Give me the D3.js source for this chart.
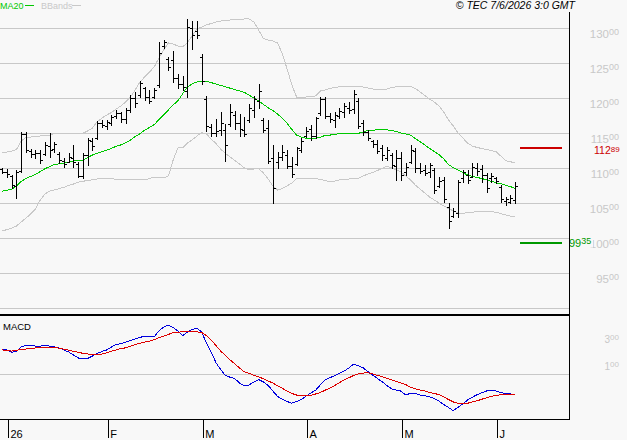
<!DOCTYPE html>
<html><head><meta charset="utf-8">
<script src="https://cdn.jsdelivr.net/npm/d3@7"></script>
<style>body{margin:0;background:#f8f8f8;}svg{display:block;font-family:"Liberation Sans",Arial,sans-serif;}</style>
</head><body><svg id="c" width="627" height="440"></svg>
<script>
// ---- data ----
const high=[109.96,109.86,109.0,109.71,115.14,115.14,112.71,112.57,112.57,113.71,
115.0,113.71,112.29,111.43,112.14,113.29,110.86,112.14,114.29,114.29,
116.76,116.86,116.86,117.57,118.29,118.04,118.53,120.43,120.9,122.47,
121.61,121.14,121.39,128.0,128.29,125.9,126.76,123.43,123.19,131.29,
131.04,131.04,126.29,120.33,116.29,117.0,117.96,116.29,119.14,118.19,
117.71,117.24,119.14,120.33,122.0,117.1,116.86,113.29,112.33,113.29,
112.57,111.61,113.04,114.24,115.9,116.14,117.33,120.19,120.19,117.81,
118.04,118.53,119.24,119.47,121.14,119.96,116.86,115.43,114.0,114.0,
113.29,113.04,112.1,112.57,112.33,110.67,113.29,112.81,110.67,110.43,
110.67,109.96,108.76,108.76,104.96,104.24,108.29,109.71,109.71,110.67,
110.67,110.43,109.24,109.24,108.76,107.57,105.9,106.14,108.04];
const low=[109.29,108.71,107.14,105.71,109.43,112.29,111.57,111.43,110.71,111.86,
111.57,112.29,110.71,110.14,110.86,110.14,108.71,108.57,110.43,112.57,
114.14,115.9,115.57,116.14,117.1,116.61,116.47,118.04,118.76,120.19,
119.71,119.24,119.96,121.61,127.14,124.0,122.24,121.43,121.14,120.1,
127.0,128.57,122.0,115.33,114.61,114.61,114.76,111.04,116.04,115.57,
114.61,114.61,116.53,117.24,118.57,115.19,110.67,104.96,109.96,111.14,
109.96,108.76,110.43,112.33,114.47,114.0,114.24,117.57,117.1,116.61,
115.9,117.1,117.33,117.81,117.81,115.67,114.71,114.0,113.04,112.1,
111.14,111.14,109.96,108.29,108.29,109.0,110.67,109.47,109.24,109.0,
108.76,106.39,107.33,105.19,101.39,103.04,103.04,108.04,107.81,108.76,
109.0,108.04,106.61,108.04,107.81,105.19,104.71,104.96,104.96];
const open=[109.9,109.5,108.8,107.5,109.6,114.9,112.4,112.0,112.2,112.0,
113.2,112.7,112.0,111.0,110.9,111.5,110.6,108.8,111.8,113.9,
114.3,116.4,116.0,116.5,117.4,117.8,117.0,118.3,120.0,120.5,
121.4,120.2,120.1,121.8,127.5,125.6,125.5,122.8,122.0,121.0,
130.0,129.5,125.8,119.8,115.8,115.0,115.4,115.5,116.3,117.6,
116.4,115.5,116.8,118.3,119.5,116.8,115.7,111.5,110.8,111.6,
111.8,110.3,110.6,112.6,114.6,115.6,114.5,117.8,119.8,117.4,
116.8,117.5,118.0,118.6,118.5,119.6,116.4,115.2,113.8,113.5,
112.9,111.5,111.8,110.3,111.5,109.4,110.8,112.4,110.0,109.7,
109.4,109.7,107.5,108.3,104.5,103.2,103.5,108.6,109.0,108.7,
110.0,109.8,109.0,108.5,108.5,107.3,105.3,105.2,105.4];
const close=[109.5,109.1,107.6,109.4,114.8,112.6,112.0,112.2,111.2,113.3,
112.6,113.4,111.1,110.6,111.6,110.8,108.9,111.9,114.0,113.2,
116.5,116.2,116.6,117.3,117.9,117.0,118.3,120.0,119.3,122.2,
120.1,119.6,121.2,126.5,128.0,124.4,122.8,122.0,121.6,130.2,
129.0,129.0,122.4,116.0,115.0,115.3,116.4,113.3,118.0,116.4,
115.6,114.9,118.6,119.8,121.0,115.4,111.0,107.2,111.6,112.3,
110.3,109.1,112.8,113.8,115.3,114.5,117.1,119.9,117.5,117.0,
117.6,118.2,118.8,118.3,120.6,116.0,115.1,114.3,113.4,112.5,
111.8,112.6,110.4,111.5,109.0,110.2,112.6,110.0,109.6,109.3,
110.4,106.9,108.2,105.6,102.5,103.8,108.0,109.4,108.3,110.2,
109.6,109.0,107.2,108.8,108.1,105.6,105.6,105.7,107.5];
const ma20=[106.7,106.8,107.0,107.4,108.1,108.5,108.8,109.1,109.5,109.9,
110.2,110.5,110.6,110.7,110.85,111.0,111.05,111.15,111.5,111.85,
112.1,112.35,112.55,112.8,113.1,113.3,113.6,114.0,114.5,114.9,
115.4,115.8,116.2,116.9,117.6,118.3,119.0,119.6,120.6,121.6,
122.0,122.3,122.4,122.4,122.2,122.0,121.8,121.6,121.4,121.2,
121.0,120.8,120.4,120.0,119.6,119.1,118.6,118.2,117.7,117.1,
116.4,115.5,114.7,114.4,114.25,114.24,114.24,114.4,114.65,114.7,
114.8,114.9,114.9,114.9,114.9,114.95,115.15,115.35,115.4,115.45,
115.5,115.45,115.35,115.2,115.0,114.85,114.7,114.2,113.75,113.3,
112.8,112.35,111.9,111.3,110.5,110.05,109.7,109.35,109.0,108.8,
108.65,108.5,108.3,108.1,107.9,107.75,107.55,107.35,107.1];
const bbUpper=[112.19,112.29,112.43,112.64,113.86,114.36,114.43,114.5,114.57,114.64,
114.71,114.93,114.96,114.96,114.96,114.96,114.96,114.96,115.29,115.71,
116.61,117.14,117.57,117.93,118.43,118.86,119.43,120.14,121.14,122.29,
123.0,123.71,124.43,125.71,126.86,127.86,127.71,127.43,127.29,127.93,
128.86,129.86,130.14,130.43,130.64,130.86,131.0,131.14,131.14,131.21,
131.24,131.29,131.29,130.86,129.71,128.53,128.29,128.14,127.86,126.29,
124.14,121.86,120.14,120.07,120.14,120.21,120.29,121.0,121.14,121.36,
121.5,121.61,121.64,121.67,121.71,121.71,121.57,121.43,121.29,121.21,
121.14,121.29,121.5,121.61,121.64,121.69,121.67,121.36,120.86,120.36,
119.86,119.43,118.86,118.0,116.86,116.0,115.0,114.29,113.57,113.14,
112.93,112.79,112.64,112.5,112.33,111.71,111.07,110.89,110.76];
const bbLower=[101.0,101.21,101.43,101.71,102.29,102.86,103.43,104.14,105.43,106.29,
106.71,106.86,107.07,107.24,107.5,107.71,107.97,108.11,108.21,108.33,
108.43,108.5,108.53,108.47,108.4,108.34,108.29,108.29,108.29,108.29,
108.29,108.5,108.71,108.71,108.57,108.86,111.14,112.86,112.86,113.57,
114.0,114.57,115.07,114.86,114.14,113.5,112.71,112.07,111.57,111.07,
110.57,110.0,109.71,109.86,109.93,109.29,108.43,107.43,106.86,107.07,
107.43,107.86,108.5,108.53,108.53,108.53,108.5,108.36,108.21,108.04,
108.14,108.29,108.36,108.43,108.46,108.5,108.86,109.14,109.36,109.64,
109.93,110.29,110.0,109.71,109.43,108.86,108.29,107.57,107.0,106.43,
105.86,105.43,105.0,104.57,104.21,103.86,103.57,103.54,103.61,103.69,
103.76,103.76,103.76,103.76,103.69,103.5,103.29,103.14,103.04];
const macd=[1.83,1.78,1.61,1.70,2.00,2.13,2.09,2.07,2.07,2.11,
2.07,2.00,1.93,1.78,1.63,1.41,1.19,1.11,1.15,1.33,
1.52,1.67,1.78,2.00,2.20,2.24,2.37,2.47,2.59,2.72,
2.78,2.81,2.76,3.19,3.48,3.61,3.44,3.19,2.85,3.11,
3.30,3.39,3.11,2.30,1.63,0.85,0.33,-0.11,-0.24,-0.35,
-0.67,-0.89,-0.81,-0.59,-0.41,-0.59,-0.85,-1.26,-1.67,-1.87,
-2.04,-2.16,-2.04,-1.89,-1.63,-1.41,-1.20,-0.81,-0.44,-0.27,
-0.13,0.05,0.22,0.44,0.73,0.61,0.46,0.19,-0.07,-0.33,
-0.57,-0.85,-1.10,-1.19,-1.27,-1.56,-1.42,-1.44,-1.56,-1.61,
-1.69,-1.81,-2.01,-2.26,-2.48,-2.72,-2.47,-2.22,-1.93,-1.73,
-1.53,-1.39,-1.26,-1.20,-1.26,-1.39,-1.43,-1.48,-1.50];
const signal=[1.78,1.74,1.70,1.76,1.81,1.85,1.90,1.93,1.96,1.98,
1.98,1.98,1.91,1.84,1.76,1.68,1.61,1.53,1.48,1.46,
1.47,1.48,1.56,1.69,1.79,1.88,1.94,2.05,2.18,2.27,
2.37,2.43,2.54,2.69,2.80,2.93,3.06,3.10,3.13,3.13,
3.13,3.13,3.07,2.85,2.52,2.11,1.70,1.37,1.04,0.74,
0.44,0.16,0.04,-0.09,-0.20,-0.36,-0.52,-0.67,-0.87,-1.06,
-1.27,-1.44,-1.56,-1.63,-1.61,-1.57,-1.48,-1.37,-1.20,-1.05,
-0.85,-0.64,-0.44,-0.28,-0.11,0.00,0.07,0.09,0.00,-0.10,
-0.19,-0.31,-0.43,-0.54,-0.67,-0.79,-0.98,-1.09,-1.19,-1.26,
-1.36,-1.44,-1.53,-1.70,-1.89,-2.07,-2.17,-2.17,-2.17,-2.07,
-1.99,-1.87,-1.76,-1.65,-1.59,-1.53,-1.50,-1.50,-1.50];
const gridPrices=[90,95,100,105,110,115,120,125,130];
const priceTicks=[95,100,105,110,115,120,125,130];
const macdTicks=[1,3];
const monthStart=[1,22,42,64,84,104];
const monthLabels=["26","F","M","A","M","J"];
const resistance=112.89, support=99.35;
const copyright="\u00A9 TEC 7/6/2026 3:0 GMT";

// ---- layout ----
const W=627,H=440,R=569;
const svg=d3.select("#c");
svg.append("rect").attr("width",W).attr("height",H).attr("fill","#f8f8f8");
const x=d3.scaleLinear().domain([0,high.length-1]).range([2.25,515]);
const y=d3.scaleLinear().domain([90,130]).range([308,28]);
const ym=d3.scaleLinear().domain([-3,3]).range([414.5,333.5]);
const GRID="#c8c8c8";

// grid main
const g1=svg.append("g").attr("transform",`translate(${R},0)`)
  .call(d3.axisLeft(y).tickValues(gridPrices).tickSize(R).tickFormat(""));
g1.select(".domain").remove();
g1.selectAll("line").attr("stroke",GRID).attr("shape-rendering","crispEdges");
// grid macd zero
const g2=svg.append("g").attr("transform",`translate(${R},0)`)
  .call(d3.axisLeft(ym).tickValues([0]).tickSize(R).tickFormat(""));
g2.select(".domain").remove();
g2.selectAll("line").attr("stroke",GRID).attr("shape-rendering","crispEdges");

function splitLabel(sel,v,mainSize,supSize,supDy){
  const s=v.toFixed(2).split(".");
  sel.text(null);
  sel.append("tspan").attr("font-size",mainSize).text(s[0]);
  sel.append("tspan").attr("font-size",supSize).attr("dy",supDy).text(s[1]);
}
// price axis labels
const pa=svg.append("g").attr("transform","translate(619,0)")
  .call(d3.axisRight(y).tickValues(priceTicks).tickSize(0).tickPadding(0));
pa.select(".domain").remove();
pa.selectAll("text").attr("text-anchor","end").attr("dy",null).attr("x",0).attr("y",9.3)
  .attr("fill","#c8c8c8").attr("font-family","Liberation Sans, Arial, sans-serif")
  .each(function(d){splitLabel(d3.select(this),d,"11.5px","9px",-3);});
// macd axis labels
const ma=svg.append("g").attr("transform","translate(619,0)")
  .call(d3.axisRight(ym).tickValues(macdTicks).tickSize(0).tickPadding(0));
ma.select(".domain").remove();
ma.selectAll("text").attr("text-anchor","end").attr("dy",null).attr("x",0).attr("y",9)
  .attr("fill","#c8c8c8").attr("font-family","Liberation Sans, Arial, sans-serif")
  .each(function(d){splitLabel(d3.select(this),d,"10px","8px",-3);});

// Bollinger bands & MA20
const lineP=d3.line().x((d,i)=>x(i)).y(d=>y(d));
svg.append("path").attr("d",lineP(bbUpper)).attr("fill","none").attr("stroke","#c8c8c8").attr("shape-rendering","crispEdges");
svg.append("path").attr("d",lineP(bbLower)).attr("fill","none").attr("stroke","#c8c8c8").attr("shape-rendering","crispEdges");
svg.append("path").attr("d",lineP(ma20)).attr("fill","none").attr("stroke","#00c800").attr("shape-rendering","crispEdges");

// OHLC bars
const bars=svg.append("g").attr("fill","#000").attr("shape-rendering","crispEdges");
high.forEach((h,i)=>{
  const xi=Math.round(x(i));
  const yh=Math.round(y(h)), yl=Math.round(y(low[i]));
  bars.append("rect").attr("x",xi).attr("y",yh).attr("width",1).attr("height",Math.max(1,yl-yh+1));
  bars.append("rect").attr("x",xi-2).attr("y",Math.round(y(open[i]))).attr("width",2).attr("height",1);
  bars.append("rect").attr("x",xi+1).attr("y",Math.round(y(close[i]))).attr("width",2).attr("height",1);
});

// resistance / support
svg.append("rect").attr("x",520).attr("y",Math.round(y(resistance))-1).attr("width",42).attr("height",2).attr("fill","#cc0000");
svg.append("rect").attr("x",520).attr("y",Math.round(y(support))-1).attr("width",42).attr("height",2).attr("fill","#009900");
const rt=svg.append("text").attr("x",594).attr("y",y(resistance)+6).attr("fill","#cc0000");
splitLabel(rt,resistance,"10.5px","8px",-2);
svg.append("rect").attr("x",570).attr("y",y(support)-6).attr("width",23).attr("height",11).attr("fill","#f8f8f8");
const st=svg.append("text").attr("x",569).attr("y",y(support)+4.7).attr("fill","#009900");
splitLabel(st,support,"11px","9px",-3);

// MACD
const lineM=d3.line().x((d,i)=>x(i)).y(d=>ym(d));
svg.append("path").attr("d",lineM(macd)).attr("fill","none").attr("stroke","#0000dd").attr("shape-rendering","crispEdges");
svg.append("path").attr("d",lineM(signal)).attr("fill","none").attr("stroke","#dd0000").attr("shape-rendering","crispEdges");

// frames
svg.append("rect").attr("x",R).attr("y",12).attr("width",1).attr("height",408).attr("fill","#000");
svg.append("rect").attr("x",0).attr("y",314).attr("width",R).attr("height",2).attr("fill","#000");
svg.append("rect").attr("x",0).attr("y",419).attr("width",R).attr("height",1).attr("fill","#000");

// month axis
const xa=svg.append("g").attr("transform","translate(1,420)")
  .call(d3.axisBottom(x).tickValues(monthStart).tickSize(18).tickFormat((d,i)=>monthLabels[i]));
xa.select(".domain").remove();
xa.selectAll("line").attr("stroke","#000").attr("shape-rendering","crispEdges");
xa.selectAll("text").attr("text-anchor","start").attr("x",2).attr("y",17.7).attr("dy",null)
  .attr("fill","#000").attr("font-size","11px").attr("font-family","Liberation Sans, Arial, sans-serif");

// legends
svg.append("text").attr("x",3).attr("y",330).attr("font-size","9.5px").attr("fill","#000").text("MACD");
svg.append("text").attr("x",0).attr("y",9).attr("font-size","9px").attr("fill","#00c800").text("MA20");
svg.append("rect").attr("x",25).attr("y",5).attr("width",9).attr("height",1).attr("fill","#00c800");
svg.append("text").attr("x",41).attr("y",9).attr("font-size","9px").attr("fill","#c8c8c8").text("BBands");
svg.append("rect").attr("x",72).attr("y",5).attr("width",9).attr("height",1).attr("fill","#c8c8c8");
svg.append("text").attr("x",575).attr("y",9).attr("text-anchor","end").attr("font-size","10.5px")
  .attr("font-style","italic").attr("fill","#000").text(copyright);
</script></body></html>
